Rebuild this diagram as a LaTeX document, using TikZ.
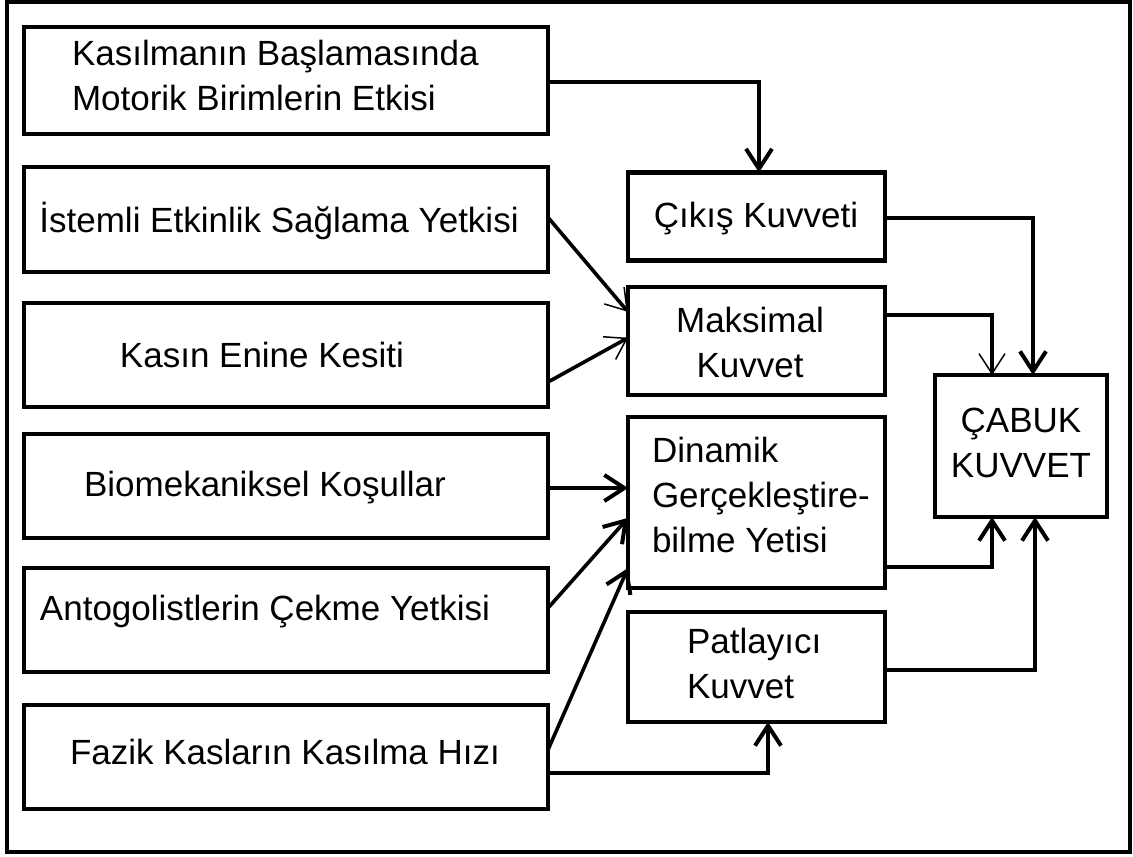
\documentclass[tikz,border=0pt]{standalone}
\usepackage{fontspec}
\setmainfont{Liberation Sans}
\usetikzlibrary{arrows.meta,calc}
\begin{document}
\begin{tikzpicture}[x=1pt,y=-1pt,
  box/.style={draw,line width=4.5pt,inner sep=0pt,outer sep=0pt},
  txt/.style={font=\fontsize{35}{45}\selectfont,inner sep=0pt,outer sep=0pt},
  conn/.style={line width=3.6pt,-{Straight Barb[length=20pt,width=26pt,line width=4pt]}},
  thinconn/.style={line width=3.6pt,-{Straight Barb[length=20pt,width=26pt,line width=1.5pt]}}]
\useasboundingbox (0,0) rectangle (1133,857);
\draw[line width=4pt] (6.5,2) rectangle (1130,852);
% left boxes
\node[box,minimum width=524pt,minimum height=107pt] (b1) at (286,80.5) {};
\node[box,minimum width=524pt,minimum height=105pt] (b2) at (286,219.5) {};
\node[box,minimum width=524pt,minimum height=104pt] (b3) at (286,355) {};
\node[box,minimum width=524pt,minimum height=104pt] (b4) at (286,486) {};
\node[box,minimum width=524pt,minimum height=104pt] (b5) at (286,620) {};
\node[box,minimum width=524pt,minimum height=104pt] (b6) at (286,757) {};
% middle boxes
\node[box,minimum width=257pt,minimum height=88pt] (cik) at (756.5,216.5) {};
\node[box,minimum width=257pt,minimum height=108pt] (mak) at (756.5,341) {};
\node[box,minimum width=257pt,minimum height=171pt] (din) at (756.5,502.5) {};
\node[box,minimum width=257pt,minimum height=110pt] (pat) at (756.5,667) {};
% result box
\node[box,minimum width=172pt,minimum height=142pt] (cab) at (1021,446) {};
% texts
\node[txt,anchor=base west,align=left] (t1) at (72,110) {Kasılmanın Başlamasında\\Motorik Birimlerin Etkisi};
\node[txt,anchor=base] (t2) at (279,232) {İstemli Etkinlik Sağlama Yetkisi};
\node[txt,anchor=base] (t3) at (262,367) {Kasın Enine Kesiti};
\node[txt,anchor=base] (t4) at (265,496) {Biomekaniksel Koşullar};
\node[txt,anchor=base] (t5) at (265,620) {Antogolistlerin Çekme Yetkisi};
\node[txt,anchor=base] (t6) at (285,764) {Fazik Kasların Kasılma Hızı};
\node[txt,anchor=base] (tc) at (756,227) {Çıkış Kuvveti};
\node[txt,anchor=base,align=center] (tm) at (750,377) {Maksimal\\Kuvvet};
\node[txt,anchor=base west,align=left] (td) at (652,552) {Dinamik\\Gerçekleştire-\\bilme Yetisi};
\node[txt,anchor=base west,align=left] (tp) at (687,698) {Patlayıcı\\Kuvvet};
\node[txt,anchor=base,align=center] (tk) at (1021,477) {ÇABUK\\KUVVET};
% connectors
\coordinate (k1) at (759,82);
\draw[conn] (b1.east |- k1) -- (k1) -- (k1 |- cik.north);
\draw[thinconn] ($(b2.north east)!0.48!(b2.south east)$) -- ($(mak.north west)!0.23!(mak.south west)$);
\draw[thinconn] ($(b3.north east)!0.76!(b3.south east)$) -- ($(mak.north west)!0.47!(mak.south west)$);
\coordinate (k2) at (1033,218);
\draw[conn] (cik.east |- k2) -- (k2) -- (k2 |- cab.north);
\coordinate (k3) at (992,315);
\draw[thinconn] (mak.east |- k3) -- (k3) -- (k3 |- cab.north);
\coordinate (k4) at (600,488);
\draw[conn] (b4.east |- k4) -- (din.west |- k4);
\draw[conn] ($(b5.north east)!0.385!(b5.south east)$) -- ($(din.north west)!0.59!(din.south west)$);
\draw[conn] ($(b6.north east)!0.43!(b6.south east)$) -- ($(din.north west)!0.883!(din.south west)$);
\coordinate (k5) at (768,773);
\draw[conn] (b6.east |- k5) -- (k5) -- (k5 |- pat.south);
\coordinate (k6) at (992,567);
\draw[conn] (din.east |- k6) -- (k6) -- (k6 |- cab.south);
\coordinate (k7) at (1035,670);
\draw[conn] (pat.east |- k7) -- (k7) -- (k7 |- cab.south);
\end{tikzpicture}
\end{document}
